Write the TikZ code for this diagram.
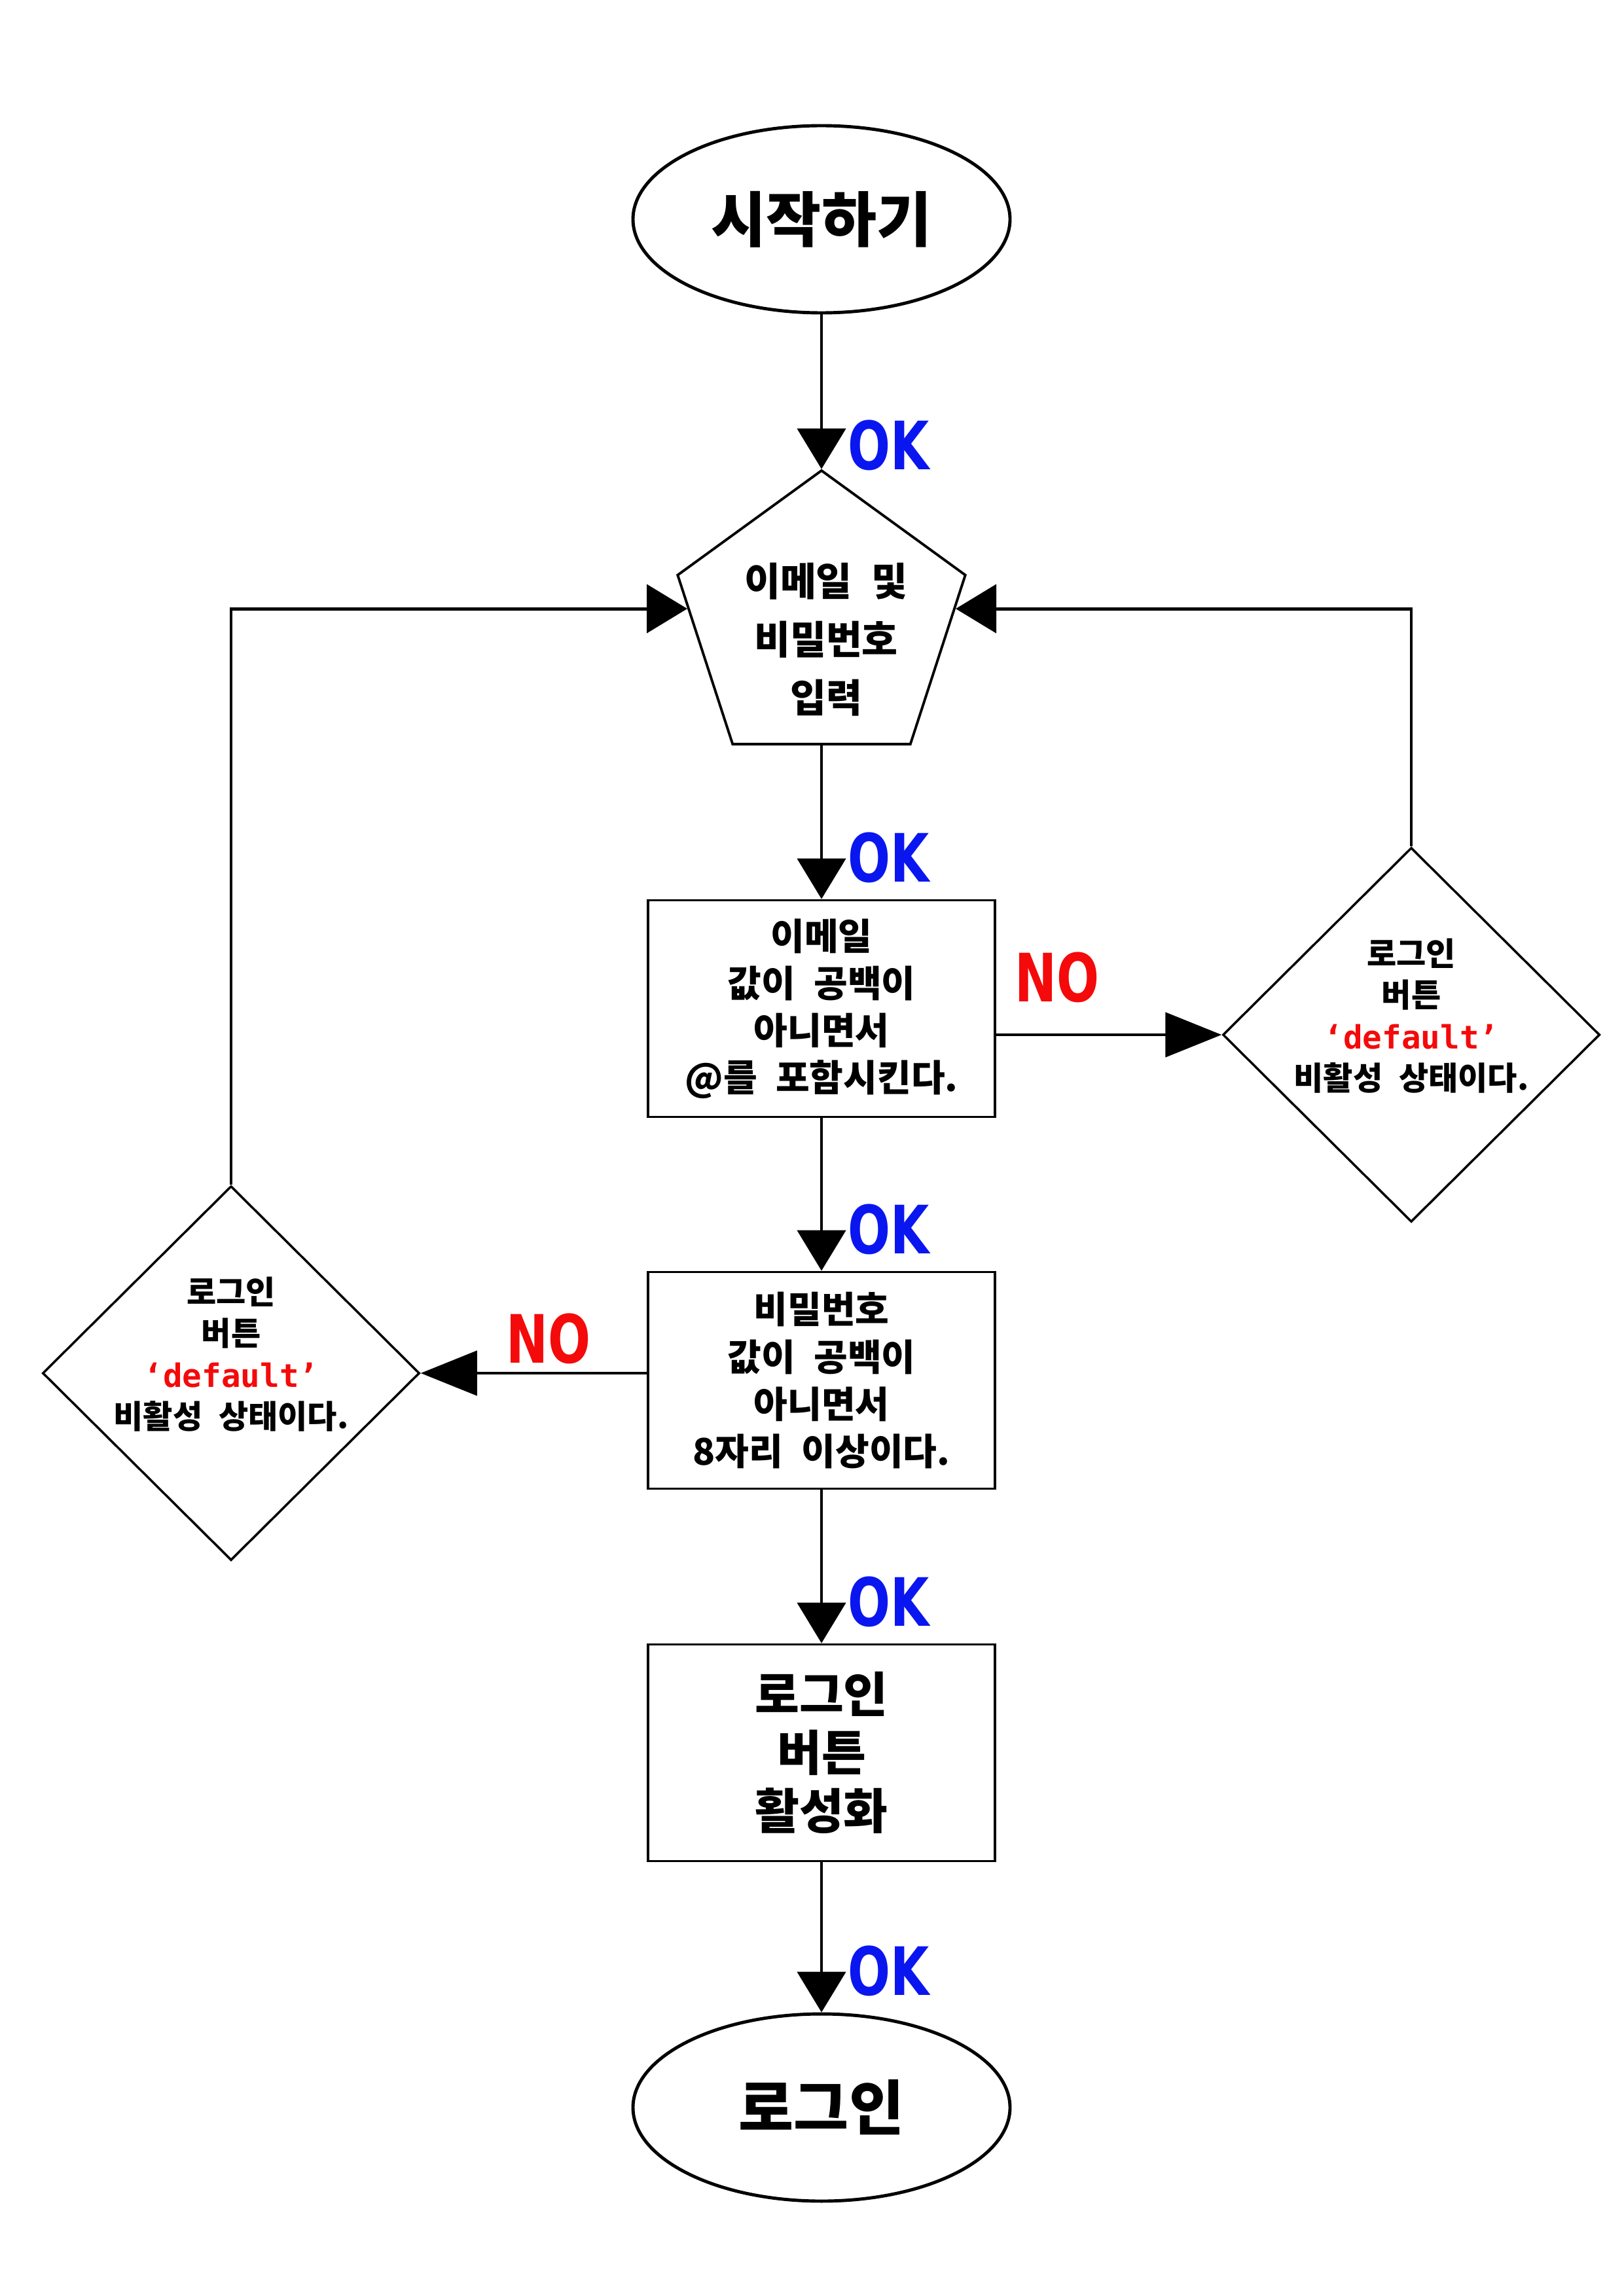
\documentclass[tikz,border=0pt]{standalone}
\usepackage{fontspec}
\usetikzlibrary{shapes.geometric,arrows.meta,calc}
\newfontfamily\kofont{Noto Sans CJK KR}[BoldFont={Noto Sans CJK KR Black}, WordSpace=2.2]
\newfontfamily\lblfont{DejaVu Sans Bold}[FakeStretch=0.75]
\newfontfamily\codefont{DejaVu Sans Mono Bold}
\definecolor{okblue}{RGB}{10,22,240}
\definecolor{nored}{RGB}{244,10,10}
\newcommand{\dflt}{\textcolor{nored}{\codefont ‘default’}}
\begin{document}
\begin{tikzpicture}[>={Triangle[length=0.62cm,width=0.74cm]},
  term/.style={draw, ellipse, line width=1.4pt, minimum width=5.76cm, minimum height=2.86cm, font=\kofont\bfseries\fontsize{26}{30}\selectfont},
  procbox/.style={draw, rectangle, line width=1.1pt, minimum width=5.30cm, minimum height=3.31cm, align=center, inner sep=0pt},
  dis/.style={draw, diamond, line width=1pt, minimum width=5.76cm, minimum height=5.72cm, inner sep=0pt},
  midtxt/.style={font=\kofont\bfseries\fontsize{16}{20.5}\selectfont},
  bigtxt/.style={font=\kofont\bfseries\fontsize{21}{25.4}\selectfont},
  distxt/.style={align=center, inner sep=0pt, font=\kofont\bfseries\fontsize{14}{18}\selectfont},
  link/.style={->, line width=1.4pt},
  nolink/.style={-{Triangle[length=0.86cm,width=0.68cm]}, line width=1.4pt},
  oklbl/.style={text=okblue, font=\lblfont\fontsize{29}{29}\selectfont, inner sep=0pt, anchor=south west, xshift=0.38cm, yshift=0.22cm},
  nolbl/.style={text=nored, font=\lblfont\fontsize{29}{29}\selectfont, inner sep=0pt}
]
\useasboundingbox (0,0) rectangle (24.80,-35.08);

\node[term] (start) at (12.55,-3.35) {시작하기};
\node[draw, regular polygon, regular polygon sides=5, minimum size=4.62cm, line width=1.1pt, inner sep=0pt] (input) at (12.55,-9.50) {};
\node[align=center, inner sep=0pt, font=\kofont\bfseries\fontsize{17}{25.4}\selectfont] (inputtext) at (12.62,-9.77) {이메일 및\\비밀번호\\입력};
\node[procbox, midtxt] (emailchk) at (12.55,-15.41) {이메일\\값이 공백이\\아니면서\\@를 포함시킨다.};
\node[dis] (rdis) at (21.56,-15.81) {};
\node[distxt] (rdistext) at (21.56,-15.52) {로그인\\버튼\\\dflt\\비활성 상태이다.};
\node[procbox, midtxt] (pwchk) at (12.55,-21.09) {비밀번호\\값이 공백이\\아니면서\\8자리 이상이다.};
\node[dis] (ldis) at (3.53,-20.98) {};
\node[distxt] (ldistext) at (3.53,-20.69) {로그인\\버튼\\\dflt\\비활성 상태이다.};
\node[procbox, bigtxt] (enable) at (12.55,-26.78) {로그인\\버튼\\활성화};
\node[term] (login) at (12.55,-32.20) {로그인};

\draw[link] (start.south) -- (input.corner 1) node[oklbl, yshift=-0.27cm] (ok1) {OK};
\draw[link] (input.south) -- (emailchk.north) node[oklbl] (ok2) {OK};
\draw[link] (emailchk.south) -- (pwchk.north) node[oklbl] (ok3) {OK};
\draw[link] (pwchk.south) -- (enable.north) node[oklbl] (ok4) {OK};
\draw[link] (enable.south) -- (login.north) node[oklbl] (ok5) {OK};
\draw[nolink] (emailchk.east |- rdis.west) node[nolbl, anchor=south west, xshift=0.26cm, yshift=0.47cm] (no1) {NO} -- (rdis.west);
\draw[nolink] (pwchk.west |- ldis.east) node[nolbl, anchor=south east, xshift=-0.83cm, yshift=0.12cm] (no2) {NO} -- (ldis.east);
\draw[link] (rdis.north) |- ($(input.corner 5)!0.2!(input.corner 4)$);
\draw[link] (ldis.north) |- ($(input.corner 2)!0.2!(input.corner 3)$);
\end{tikzpicture}
\end{document}
